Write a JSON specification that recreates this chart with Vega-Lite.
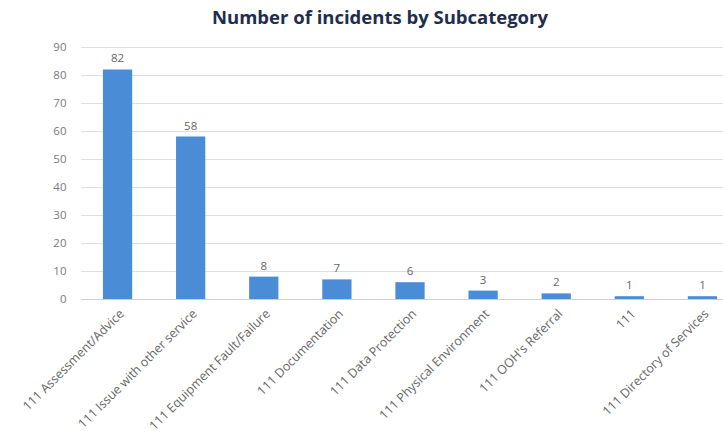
{
  "$schema": "https://vega.github.io/schema/vega-lite/v6.json",
  "autosize": "none",
  "width": 642,
  "height": 252,
  "padding": {"left": 80, "top": 47, "right": 1, "bottom": 143},
  "background": "white",
  "title": {
    "text": "Number of incidents by Subcategory",
    "font": "Open Sans",
    "fontSize": 18.5,
    "fontWeight": "bold",
    "color": "#1F2D4F",
    "anchor": "middle",
    "dx": -21,
    "offset": 14
  },
  "config": {"view": {"stroke": null}},
  "data": {
    "values": [
      {"subcategory": "111 Assessment/Advice", "count": 82},
      {"subcategory": "111 Issue with other service", "count": 58},
      {"subcategory": "111 Equipment Fault/Failure", "count": 8},
      {"subcategory": "111 Documentation", "count": 7},
      {"subcategory": "111 Data Protection", "count": 6},
      {"subcategory": "111 Physical Environment", "count": 3},
      {"subcategory": "111 OOH's Referral", "count": 2},
      {"subcategory": "111", "count": 1},
      {"subcategory": "111 Directory of Services", "count": 1}
    ]
  },
  "encoding": {
    "x": {
      "field": "subcategory",
      "type": "nominal",
      "sort": null,
      "scale": {"paddingInner": 0.6, "paddingOuter": 0.3, "range": [1, 659]},
      "axis": {
        "title": null,
        "labelAngle": -45,
        "labelFont": "Open Sans",
        "labelFontSize": 12.5,
        "labelColor": "#666666",
        "domainColor": "#CFCFCF",
        "ticks": false,
        "labelPadding": 8,
        "labelLimit": 300
      }
    },
    "y": {
      "field": "count",
      "type": "quantitative",
      "scale": {"domain": [0, 90]},
      "axis": {
        "title": null,
        "values": [0, 10, 20, 30, 40, 50, 60, 70, 80, 90],
        "labelFont": "Open Sans",
        "labelFontSize": 11.5,
        "labelColor": "#7A7A7A",
        "gridColor": "#DEDEDE",
        "domain": false,
        "ticks": false,
        "labelPadding": 14
      }
    }
  },
  "layer": [
    {"mark": {"type": "bar", "color": "#4A8CD6"}},
    {
      "mark": {"type": "text", "dy": -10, "font": "Open Sans", "fontSize": 11.5, "color": "#666666"},
      "encoding": {"text": {"field": "count", "type": "quantitative"}}
    }
  ]
}
